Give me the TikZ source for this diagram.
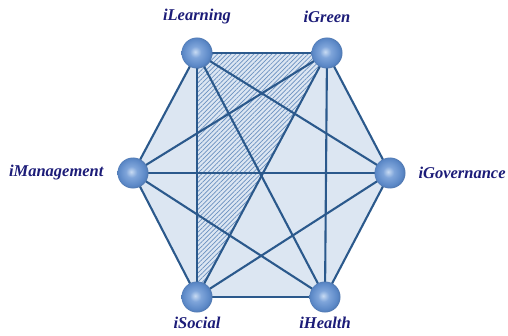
\documentclass[tikz,border=0pt]{standalone}
\usepackage{fontspec}
\setmainfont{Liberation Serif}
\usetikzlibrary{patterns.meta}
\definecolor{edgec}{HTML}{2B598C}
\definecolor{fillc}{HTML}{DCE6F2}
\definecolor{ballc}{HTML}{5A87C6}
\definecolor{ballmid}{HTML}{7FA5DA}
\definecolor{ballhi}{HTML}{C8DBF3}
\definecolor{textc}{HTML}{1C1C78}
\definecolor{hatchc}{HTML}{6A90C0}
\pgfdeclareradialshading{myball}{\pgfpoint{-3bp}{2bp}}{color(0bp)=(ballhi); color(9bp)=(ballmid); color(22bp)=(ballc); color(25bp)=(ballc!90!black); color(50bp)=(ballc!90!black)}
\tikzset{
  hub/.style={circle, minimum size=31pt, inner sep=0pt, shading=myball},
  lbl/.style={font=\fontsize{16.5}{18}\selectfont\bfseries\itshape, text=textc},
  link/.style={draw=edgec, line width=2.1pt},
}
\begin{document}
\begin{tikzpicture}[x=1pt,y=1pt]
\useasboundingbox (0,0) rectangle (508,335);
\coordinate (L) at (197,282);
\coordinate (G) at (327,282);
\coordinate (M) at (133,162);
\coordinate (V) at (390,162);
\coordinate (S) at (197,38);
\coordinate (H) at (325,38);
\fill[fillc] (L) -- (G) -- (V) -- (H) -- (S) -- (M) -- cycle;
\fill[pattern={Lines[angle=45,distance=3.2pt,line width=0.7pt]}, pattern color=hatchc] (L) -- (G) -- (S) -- cycle;
\foreach \a/\b in {L/G,G/V,V/H,H/S,S/M,M/L,L/S,L/H,L/V,G/S,G/M,G/H,M/V,M/H,S/V}
  \draw[link] (\a) -- (\b);
\node[hub] (nL) at (L) {};
\node[hub] (nG) at (G) {};
\node[hub] (nM) at (M) {};
\node[hub] (nV) at (V) {};
\node[hub] (nS) at (S) {};
\node[hub] (nH) at (H) {};
\node[lbl] (tL) at (197,318) {iLearning};
\node[lbl] (tG) at (327,318) {iGreen};
\node[lbl, anchor=east] (tM) at (107,162) {iManagement};
\node[lbl, anchor=west] (tV) at (415,162) {iGovernance};
\node[lbl] (tS) at (197,12) {iSocial};
\node[lbl] (tH) at (325,12) {iHealth};
\end{tikzpicture}
\end{document}
